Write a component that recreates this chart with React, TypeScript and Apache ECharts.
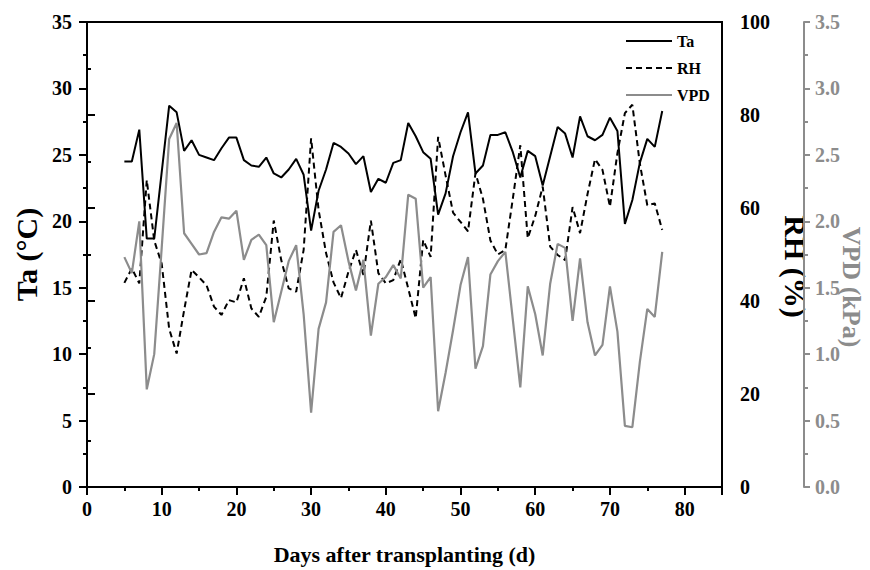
import React, { useEffect, useRef } from "react";
import * as echarts from "echarts";

const days = [5,6,7,8,9,10,11,12,13,14,15,16,17,18,19,20,21,22,23,24,25,26,27,28,29,30,31,32,33,34,35,36,37,38,39,40,41,42,43,44,45,46,47,48,49,50,51,52,53,54,55,56,57,58,59,60,61,62,63,64,65,66,67,68,69,70,71,72,73,74,75,76,77];

const ta = [24.5,24.5,26.9,18.7,18.7,23.7,28.7,28.2,25.3,26.1,25.0,24.8,24.6,25.5,26.3,26.3,24.6,24.2,24.1,24.8,23.6,23.3,23.9,24.7,23.5,19.3,22.3,23.9,25.9,25.6,25.1,24.3,24.9,22.2,23.2,22.9,24.4,24.6,27.4,26.4,25.2,24.7,20.5,22.1,24.9,26.7,28.2,23.6,24.2,26.5,26.5,26.7,25.2,23.3,25.3,24.9,22.7,24.9,27.1,26.6,24.8,27.9,26.4,26.1,26.5,27.8,26.8,19.8,21.6,24.4,26.2,25.6,28.3];

const rh = [43.9,47.0,43.8,66,53,48,34,28.7,38,46.7,45.1,43.4,38.8,37,40.2,39.7,44.9,38.4,36.6,40.9,57.3,48.8,42.7,42,51,75,59.6,50.3,44,40.6,46.3,51,45.6,57.3,46,43.8,44.5,49,42.7,36.3,53.1,49.5,75.3,67,59,57,55,67.5,62,53,50,51,62,73.5,53.5,58.3,64.6,51.7,49.9,48.8,60.2,54.6,63,70.5,68.2,60.3,71.8,80.4,82.2,69.6,60.6,61,55.3];

const vpd = [1.73,1.61,2.0,0.735,1.0,1.8,2.62,2.74,1.91,1.83,1.75,1.76,1.92,2.03,2.02,2.08,1.71,1.86,1.90,1.82,1.24,1.47,1.70,1.82,1.30,0.56,1.19,1.39,1.92,1.97,1.70,1.48,1.71,1.14,1.53,1.58,1.67,1.57,2.2,2.17,1.50,1.58,0.57,0.86,1.18,1.52,1.73,0.89,1.06,1.60,1.70,1.77,1.26,0.75,1.51,1.30,0.99,1.53,1.83,1.80,1.25,1.72,1.24,0.99,1.07,1.51,1.17,0.46,0.45,0.94,1.34,1.28,1.77];

const seriesNames = ["Ta", "RH", "VPD"];
const xTitle = "Days after transplanting (d)";
const yTitles = ["Ta (°C)", "RH (%)", "VPD (kPa)"];

const FONT = "'Liberation Serif', 'DejaVu Serif', serif";
const GRAY = "#8c8c8c";

export default function App() {
  const ref = useRef<HTMLDivElement>(null);
  useEffect(() => {
    if (!ref.current) return;
    const chart = echarts.init(ref.current, undefined, { renderer: "svg" });
    const pair = (vals: number[]) => days.map((d, i) => [d, vals[i]]);
    const labelStyle = { fontFamily: FONT, fontWeight: "bold" as const, fontSize: 20, color: "#000" };
    const nameStyle = (color: string, size: number, padding?: number[]) => ({
      fontFamily: FONT, fontWeight: "bold" as const, fontSize: size, color, ...(padding ? { padding } : {}),
    });
    chart.setOption({
      animation: false,
      backgroundColor: "#fff",
      grid: {
        left: 87, right: 148, top: 22, bottom: 83,
        show: true, borderColor: "#000", borderWidth: 2,
        containLabel: false, outerBoundsMode: "none",
      },
      legend: {
        orient: "vertical",
        left: 620,
        top: 28,
        itemWidth: 46,
        itemHeight: 12,
        itemGap: 11,
        data: seriesNames,
        itemStyle: { opacity: 0 },
        textStyle: { fontFamily: FONT, fontWeight: "bold", fontSize: 16, color: "#000" },
      },
      graphic: [
        {
          type: "text",
          x: 851,
          y: 287,
          rotation: -Math.PI / 2,
          style: {
            text: yTitles[2],
            fill: GRAY,
            fontFamily: FONT,
            fontWeight: "bold",
            fontSize: 26,
            align: "center",
            verticalAlign: "middle",
          },
        },
      ],
      xAxis: [
        {
          type: "value",
          min: 0,
          max: 85,
          interval: 5,
          position: "bottom",
          name: xTitle,
          nameLocation: "middle",
          nameGap: 56,
          nameTextStyle: { fontFamily: FONT, fontWeight: "bold", fontSize: 22, color: "#000" },
          axisLine: { show: true, lineStyle: { color: "#000", width: 2 } },
          axisTick: { show: true, length: 4, lineStyle: { color: "#000", width: 2 } },
          axisLabel: { ...labelStyle, margin: 12, formatter: (v: number) => (v % 10 === 0 ? String(v) : "") },
          splitLine: { show: false },
        },
        {
          type: "value",
          min: 0,
          max: 85,
          interval: 10,
          position: "bottom",
          axisLine: { show: false },
          axisTick: { show: true, length: 8, lineStyle: { color: "#000", width: 2 } },
          axisLabel: { show: false },
          splitLine: { show: false },
        },
      ],
      yAxis: [
        {
          type: "value",
          min: 0,
          max: 35,
          interval: 5,
          position: "left",
          name: yTitles[0],
          nameLocation: "middle",
          nameGap: 42,
          nameTextStyle: nameStyle("#000", 30),
          axisLine: { show: true, lineStyle: { color: "#000", width: 2 } },
          axisTick: { show: true, length: 8, lineStyle: { color: "#000", width: 2 } },
          minorTick: { show: true, splitNumber: 2, length: 4, lineStyle: { color: "#000", width: 2 } },
          axisLabel: { ...labelStyle, margin: 15 },
          splitLine: { show: false },
        },
        {
          type: "value",
          min: 0,
          max: 100,
          interval: 20,
          position: "right",
          name: yTitles[1],
          nameLocation: "middle",
          nameRotate: -90,
          nameGap: 50,
          nameTextStyle: nameStyle("#000", 30, [0, 0, 0, 24]),
          axisLine: { show: true, lineStyle: { color: "#000", width: 2 } },
          axisTick: { show: true, length: 8, lineStyle: { color: "#000", width: 2 } },
          minorTick: { show: true, splitNumber: 2, length: 4, lineStyle: { color: "#000", width: 2 } },
          axisLabel: { ...labelStyle, margin: 18 },
          splitLine: { show: false },
        },
        {
          type: "value",
          min: 0,
          max: 3.5,
          interval: 0.5,
          position: "right",
          offset: 82,
          axisLine: { show: true, lineStyle: { color: GRAY, width: 2 } },
          axisTick: { show: true, length: 6, lineStyle: { color: GRAY, width: 2 } },
          minorTick: { show: true, splitNumber: 2, length: 4, lineStyle: { color: GRAY, width: 2 } },
          axisLabel: { ...labelStyle, color: GRAY, margin: 11, formatter: (v: number) => v.toFixed(1) },
          splitLine: { show: false },
        },
      ],
      series: [
        {
          name: seriesNames[0],
          type: "line",
          xAxisIndex: 0,
          yAxisIndex: 0,
          data: pair(ta),
          symbol: "none",
          lineStyle: { color: "#000", width: 2 },
          itemStyle: { color: "#000", opacity: 0 },
        },
        {
          name: seriesNames[1],
          type: "line",
          xAxisIndex: 0,
          yAxisIndex: 1,
          data: pair(rh),
          symbol: "none",
          lineStyle: { color: "#000", width: 2, type: [6, 4] },
          itemStyle: { color: "#000", opacity: 0 },
        },
        {
          name: seriesNames[2],
          type: "line",
          xAxisIndex: 0,
          yAxisIndex: 2,
          data: pair(vpd),
          symbol: "none",
          lineStyle: { color: GRAY, width: 2.2 },
          itemStyle: { color: GRAY, opacity: 0 },
        },
      ],
    });
    return () => chart.dispose();
  }, []);
  return <div ref={ref} style={{ position: "fixed", left: 0, top: 0, width: 870, height: 570 }} />;
}
